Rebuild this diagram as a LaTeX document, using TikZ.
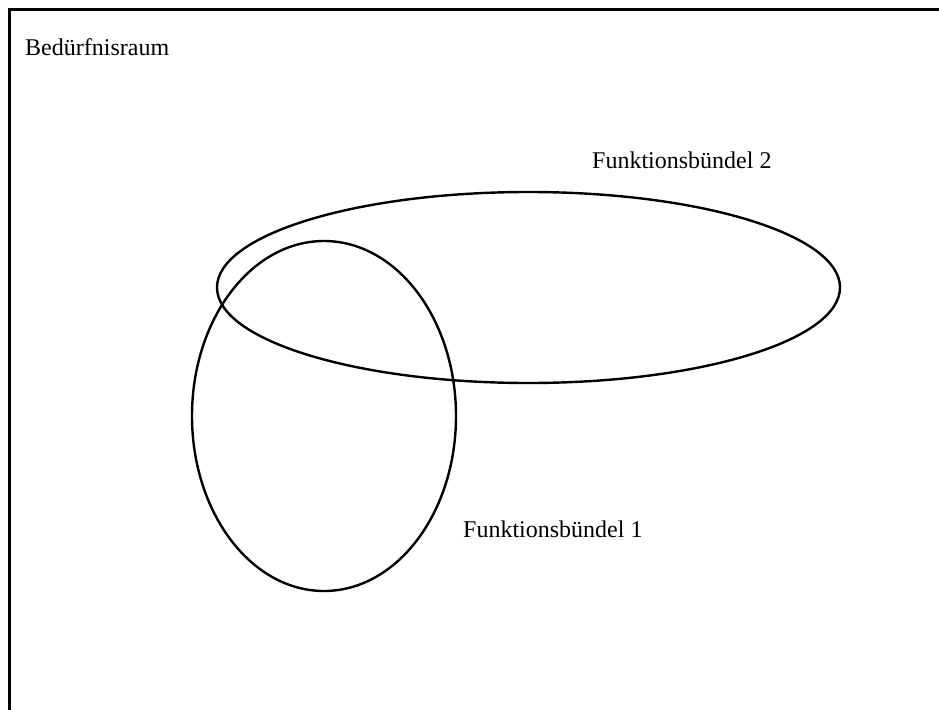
\documentclass[tikz,border=0pt]{standalone}
\usepackage{fontspec}
\setmainfont{Liberation Serif}
\usetikzlibrary{shapes.geometric}
\begin{document}
\begin{tikzpicture}[x=1pt,y=-1pt,
  lbl/.style={anchor=base west,inner sep=0pt,font=\fontsize{24}{28}\selectfont},
  setline/.style={draw=black,line width=2.4pt}]
\useasboundingbox (0,0) rectangle (939,709);
\clip (0,0) rectangle (939,709);
\draw[line width=3pt] (9.5,9.5) rectangle (960,730);
\node[lbl] (raum) at (25,56) {Bedürfnisraum};
\node[setline,ellipse,minimum width=264pt,minimum height=350pt,inner sep=0pt] (fb1) at (324,416) {};
\node[setline,ellipse,minimum width=623pt,minimum height=191pt,inner sep=0pt] (fb2) at (528.5,287.5) {};
\node[lbl] (l2) at (592,168) {Funktionsbündel 2};
\node[lbl] (l1) at (463,537) {Funktionsbündel 1};
\end{tikzpicture}
\end{document}
